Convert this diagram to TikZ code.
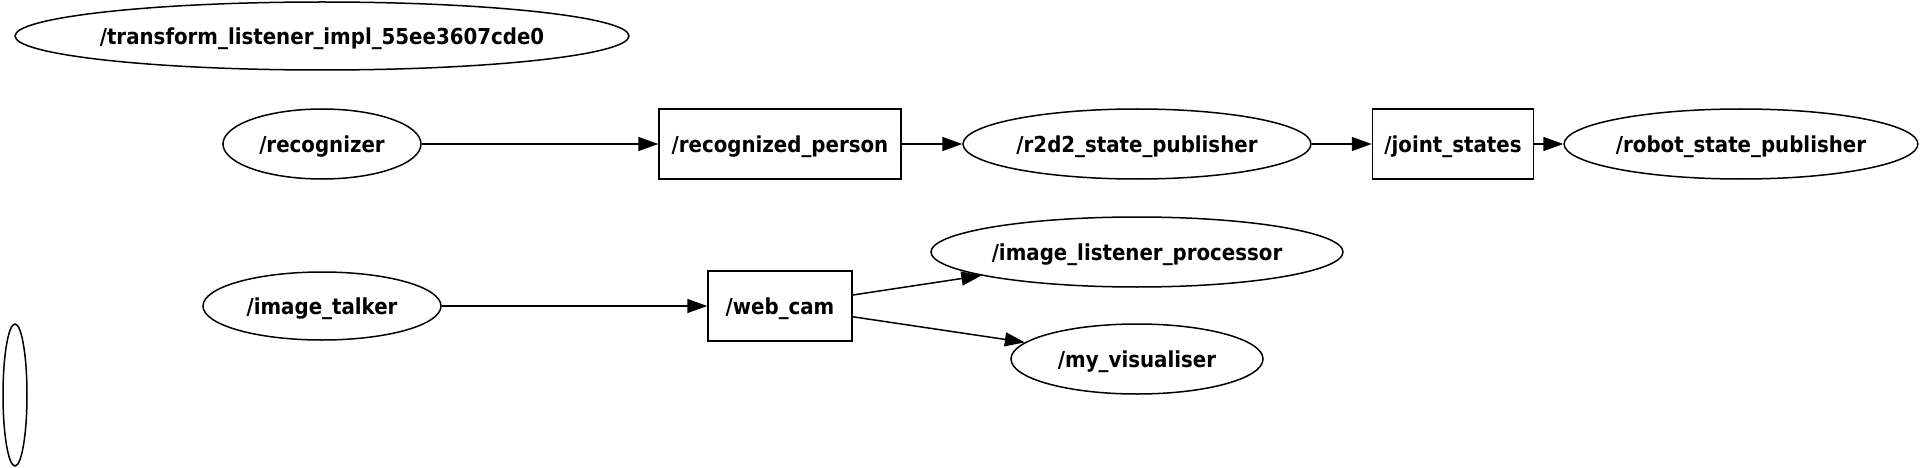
\documentclass[tikz,border=0pt]{standalone}
\usepackage{fontspec}
\setmainfont{DejaVu Sans Condensed}
\usetikzlibrary{shapes.geometric,arrows.meta}

\tikzset{
  rosnode/.style={draw, ellipse, line width=1.5pt, inner sep=0pt,
    text depth=0pt, font=\fontsize{22}{22}\selectfont\bfseries},
  rostopic/.style={draw, rectangle, line width=1.5pt, inner sep=0pt,
    text depth=0pt, minimum height=70, font=\fontsize{22}{22}\selectfont\bfseries},
  rosedge/.style={line width=1.5pt, -{Triangle[length=20,width=14]}}
}

\begin{document}
\begin{tikzpicture}[x=1pt,y=-1pt]

    \useasboundingbox (0,0) rectangle (1920,468);

    % nodes
    \node[rosnode, minimum width=614, minimum height=68] (tfl) at (322,36) {\makebox[0pt]{/transform\_listener\_impl\_55ee3607cde0}};
    \node[rosnode, minimum width=198, minimum height=70] (recognizer) at (322,144) {/recognizer};
    \node[rostopic, minimum width=242] (recognized_person) at (780,144) {/recognized\_person};
    \node[rosnode, minimum width=348, minimum height=70] (r2d2) at (1137,144) {/r2d2\_state\_publisher};
    \node[rostopic, minimum width=161] (joint_states) at (1453,144) {/joint\_states};
    \node[rosnode, minimum width=352, minimum height=70] (rsp) at (1741,144) {/robot\_state\_publisher};
    \node[rosnode, minimum width=412, minimum height=70] (ilp) at (1137,252) {/image\_listener\_processor};
    \node[rosnode, minimum width=238, minimum height=68] (talker) at (322,306) {/image\_talker};
    \node[rostopic, minimum width=144] (web_cam) at (780,306) {/web\_cam};
    \node[rosnode, minimum width=252, minimum height=70] (visualiser) at (1137,359) {/my\_visualiser};
    \node[rosnode, minimum width=24, minimum height=142] (empty) at (15,395) {};

    % edges
    \draw[rosedge] (recognizer) -- (recognized_person);
    \draw[rosedge] (recognized_person) -- (r2d2);
    \draw[rosedge] (r2d2) -- (joint_states);
    \draw[rosedge] (joint_states) -- (rsp);
    \draw[rosedge] (talker) -- (web_cam);
    \draw[rosedge] (web_cam) -- (ilp);
    \draw[rosedge] (web_cam) -- (visualiser);

\end{tikzpicture}
\end{document}
